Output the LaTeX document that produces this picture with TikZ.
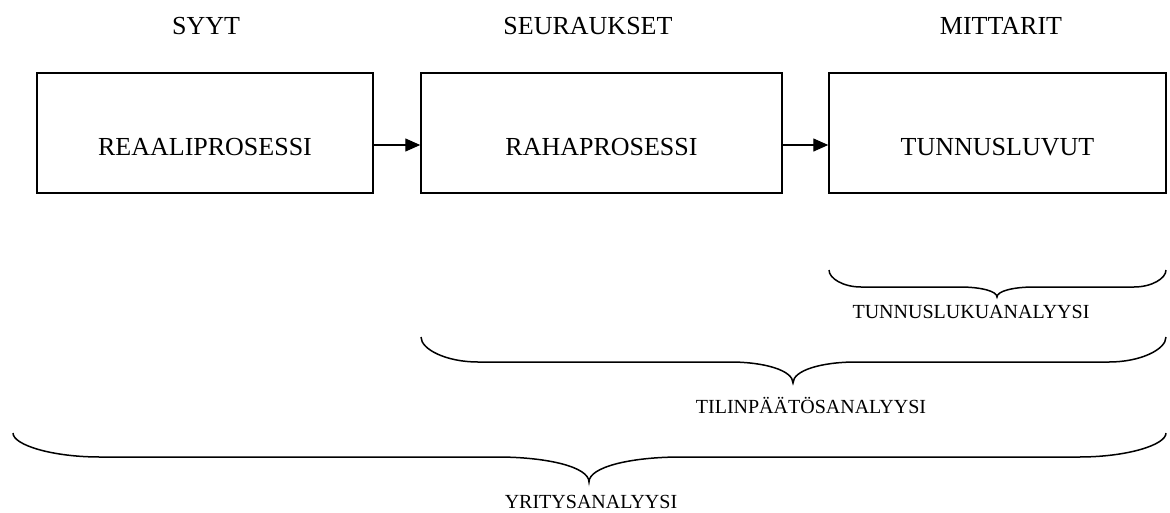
\documentclass[tikz,border=0pt]{standalone}
\usepackage{fontspec}
\setmainfont{Liberation Serif}
\usetikzlibrary{arrows.meta}

% Horizontal curly brace opening upwards:
% #1 left x, #2 right x, #3 tip x, #4 end y, #5 bar y, #6 tip y, #7 end-curve width, #8 tip-curve width
\newcommand\hbrc[8]{%
  \draw[bracestyle] (#1,#4)
    .. controls (#1,{#4+0.5*(#5-#4)}) and ({#1+0.45*#7},#5) .. ({#1+#7},#5)
    -- ({#3-#8},#5)
    .. controls ({#3-0.45*#8},#5) and (#3,{#5+0.4*(#6-#5)}) .. (#3,#6)
    .. controls (#3,{#5+0.4*(#6-#5)}) and ({#3+0.45*#8},#5) .. ({#3+#8},#5)
    -- ({#2-#7},#5)
    .. controls ({#2-0.45*#7},#5) and (#2,{#4+0.5*(#5-#4)}) .. (#2,#4);}

\begin{document}
\begin{tikzpicture}[x=1pt,y=-1pt,
  box/.style={draw,line width=1.5pt,inner sep=0pt,minimum height=120pt},
  bigtext/.style={font=\fontsize{26}{30}\selectfont,anchor=base,inner sep=0pt},
  smalltext/.style={font=\fontsize{20}{24}\selectfont,anchor=base,inner sep=0pt},
  flow/.style={line width=1.4pt,-{Triangle[length=15pt,width=13pt]}},
  bracestyle/.style={line width=1.5pt,line join=miter}]
\useasboundingbox (0,0) rectangle (1170,512);

% column headings
\node[bigtext] (h1) at (206,34) {SYYT};
\node[bigtext] (h2) at (588,34) {SEURAUKSET};
\node[bigtext] (h3) at (1001,34) {MITTARIT};

% process boxes
\node[box,minimum width=336pt] (b1) at (205,133) {};
\node[box,minimum width=361pt] (b2) at (601.5,133) {};
\node[box,minimum width=337pt] (b3) at (997.5,133) {};

\node[bigtext] (t1) at (205,155) {REAALIPROSESSI};
\node[bigtext] (t2) at (601.5,155) {RAHAPROSESSI};
\node[bigtext] (t3) at (997.5,155) {TUNNUSLUVUT};

% flow between the boxes
\draw[flow] ([yshift=-12pt]b1.east) -- ([yshift=-12pt]b2.west);
\draw[flow] ([yshift=-12pt]b2.east) -- ([yshift=-12pt]b3.west);

% scopes of the analyses
\hbrc{829}{1166}{997}{270}{287}{297}{32}{37}
\node[smalltext] (l1) at (971,318) {TUNNUSLUKUANALYYSI};

\hbrc{421}{1166}{793}{337}{362}{383}{57}{63}
\node[smalltext] (l2) at (811,413) {TILINPÄÄTÖSANALYYSI};

\hbrc{13}{1166}{589}{433}{457}{482}{87}{92}
\node[smalltext] (l3) at (591,508) {YRITYSANALYYSI};
\end{tikzpicture}
\end{document}
